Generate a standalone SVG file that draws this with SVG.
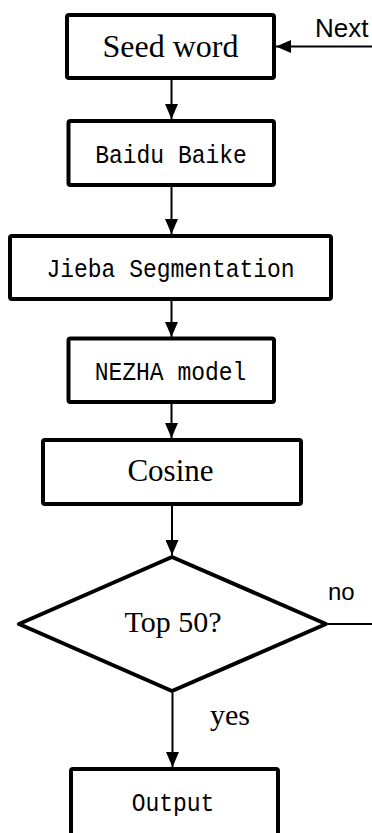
<svg xmlns="http://www.w3.org/2000/svg" width="372" height="833" viewBox="0 0 372 833">
<style>
.box{fill:#fff;stroke:#000;stroke-width:4;stroke-linejoin:round}
.ln{fill:none;stroke:#000;stroke-width:2}
.serif{font-family:"Liberation Serif","Times New Roman",serif;fill:#000}
.mono{font-family:"Liberation Mono","Courier New",monospace;font-size:23px;fill:#000}
.sans{font-family:"Liberation Sans",Arial,sans-serif;fill:#000}
</style>
<defs>
<marker id="ah" markerUnits="userSpaceOnUse" markerWidth="15" markerHeight="13" refX="15" refY="6.5" orient="auto">
<path d="M0,0 L15,6.5 L0,13 z" fill="#000"/>
</marker>
</defs>
<rect width="372" height="833" fill="#fff"/>
<g id="connectors">
<line class="ln" x1="171.5" y1="80" x2="171.5" y2="119" marker-end="url(#ah)"/>
<line class="ln" x1="171.5" y1="187" x2="171.5" y2="234" marker-end="url(#ah)"/>
<line class="ln" x1="171.5" y1="301" x2="171.5" y2="337" marker-end="url(#ah)"/>
<line class="ln" x1="171.5" y1="404" x2="171.5" y2="438" marker-end="url(#ah)"/>
<line class="ln" x1="172" y1="506" x2="172" y2="555" marker-end="url(#ah)"/>
<line class="ln" x1="172.5" y1="693" x2="172.5" y2="767" marker-end="url(#ah)"/>
<line class="ln" x1="372" y1="46.5" x2="276" y2="46.5" marker-end="url(#ah)"/>
<line class="ln" x1="328" y1="624" x2="372" y2="624"/>
<text class="sans" x="315" y="37" font-size="26">Next</text>
<text class="sans" x="328" y="600" font-size="24">no</text>
<text class="serif" x="210" y="725" font-size="30">yes</text>
</g>
<g id="seed">
<rect class="box" x="67" y="15" width="207" height="63" rx="2"/>
<text class="serif" x="170.5" y="57" font-size="32" text-anchor="middle">Seed word</text>
</g>
<g id="baidu">
<rect class="box" x="68.5" y="121" width="205.5" height="64" rx="2"/>
<text class="mono" transform="translate(171,163) scale(1,1.15)" text-anchor="middle">Baidu Baike</text>
</g>
<g id="jieba">
<rect class="box" x="10" y="236" width="321" height="63" rx="2"/>
<text class="mono" transform="translate(170.5,277) scale(1,1.15)" text-anchor="middle">Jieba Segmentation</text>
</g>
<g id="nezha">
<rect class="box" x="68.5" y="338.5" width="205.5" height="63.5" rx="2"/>
<text class="mono" transform="translate(170.5,380) scale(1,1.15)" text-anchor="middle">NEZHA model</text>
</g>
<g id="cosine">
<rect class="box" x="43" y="440" width="258" height="64" rx="2"/>
<text class="serif" x="170.5" y="481" font-size="31" text-anchor="middle">Cosine</text>
</g>
<g id="top50">
<polygon class="box" points="172,557 326,624 172,691 19,624"/>
<text class="serif" x="173" y="632" font-size="30" text-anchor="middle">Top 50?</text>
</g>
<g id="output">
<rect class="box" x="71" y="769" width="207" height="80" rx="2"/>
<text class="mono" transform="translate(173,811) scale(1,1.15)" text-anchor="middle">Output</text>
</g>
</svg>
